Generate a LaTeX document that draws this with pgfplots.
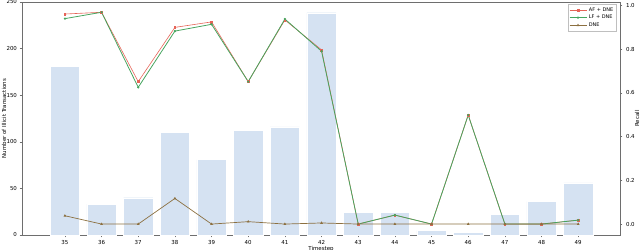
\documentclass[border=0pt]{standalone}
\usepackage{pgfplots}
\pgfplotsset{compat=1.18}
\usepackage{fontspec}
\setmainfont{DejaVu Sans}
\definecolor{barblue}{RGB}{213,226,242}
\definecolor{afred}{RGB}{230,100,88}
\definecolor{lfgreen}{RGB}{70,165,95}
\definecolor{dnebrown}{RGB}{140,112,64}
\definecolor{framegrey}{RGB}{110,110,110}
\begin{document}
\begin{tikzpicture}
\pgfplotsset{
  every axis/.append style={
    scale only axis, width=598bp, height=233bp,
    xmin=33.83, xmax=50.14,
    font=\fontsize{5.5}{6.5}\selectfont,
    /pgf/number format/assume math mode=true,
    axis line style={framegrey, line width=0.6pt},
    tick style={framegrey, line width=0.5pt},
    major tick length=2.5pt,
  }
}
\begin{axis}[
  at={(0,0)}, anchor=south west,
  ymin=0, ymax=250,
  ytick={0,50,100,150,200,250},
  xtick={35,36,...,49},
  tick align=outside,
  xtick pos=bottom, ytick pos=left,
  xlabel={Timestep},
  ylabel={Number of Illicit Transactions},
  every axis x label/.style={at={(axis description cs:0.5,0)}, anchor=north, yshift=-7.5bp},
  every axis y label/.style={at={(axis description cs:-0.030,0.5)}, rotate=90, anchor=center},
  xticklabel style={yshift=1pt},
  yticklabel style={xshift=1pt},
]
\addplot[ybar, bar width=0.8, fill=barblue, draw=white, line width=0.4pt] coordinates {
(35,181) (36,33) (37,40) (38,110.5) (39,81) (40,112) (41,116) (42,238.5)
(43,24) (44,24) (45,5) (46,3) (47,22) (48,36) (49,56)
};
\end{axis}
\begin{axis}[
  at={(0,0)}, anchor=south west,
  ymin=-0.05, ymax=1.015,
  axis y line*=right, axis x line=none,
  ytick={0,0.2,0.4,0.6,0.8,1.0},
  yticklabel style={/pgf/number format/.cd, fixed, fixed zerofill, precision=1},
  tick align=outside,
  ylabel={Recall},
  every axis y label/.style={at={(axis description cs:1.0285,0.5)}, rotate=90, anchor=center},
  legend style={at={(axis description cs:0.994,0.99)}, anchor=north east,
    font=\fontsize{5}{6}\selectfont, draw=black!25, line width=0.4pt,
    inner sep=1pt, row sep=-1.5pt, legend cell align=left},
]
\addplot[afred, line width=0.6pt, mark=square*, mark size=0.9pt] coordinates {
(35,0.960) (36,0.968) (37,0.651) (38,0.899) (39,0.924) (40,0.651) (41,0.933) (42,0.796)
(43,0) (44,0.041) (45,0) (46,0.498) (47,0) (48,0) (49,0.018)
};
\addlegendentry{AF + DNE}
\addplot[lfgreen, line width=0.8pt, mark=*, mark size=0.7pt] coordinates {
(35,0.939) (36,0.968) (37,0.625) (38,0.882) (39,0.913) (40,0.651) (41,0.937) (42,0.790)
(43,0) (44,0.041) (45,0) (46,0.498) (47,0) (48,0) (49,0.018)
};
\addlegendentry{LF + DNE}
\addplot[dnebrown, line width=0.7pt, mark=triangle*, mark size=0.9pt] coordinates {
(35,0.038) (36,0) (37,0) (38,0.117) (39,0) (40,0.011) (41,0) (42,0.005)
(43,0) (44,0) (45,0) (46,0) (47,0) (48,0) (49,0)
};
\addlegendentry{DNE}
\end{axis}
\draw[framegrey, line width=0.6pt] (0,233bp) -- (598bp,233bp);
\pgfresetboundingbox
\path[use as bounding box] (-22bp,-15bp) rectangle (618bp,235bp);
\end{tikzpicture}
\end{document}
